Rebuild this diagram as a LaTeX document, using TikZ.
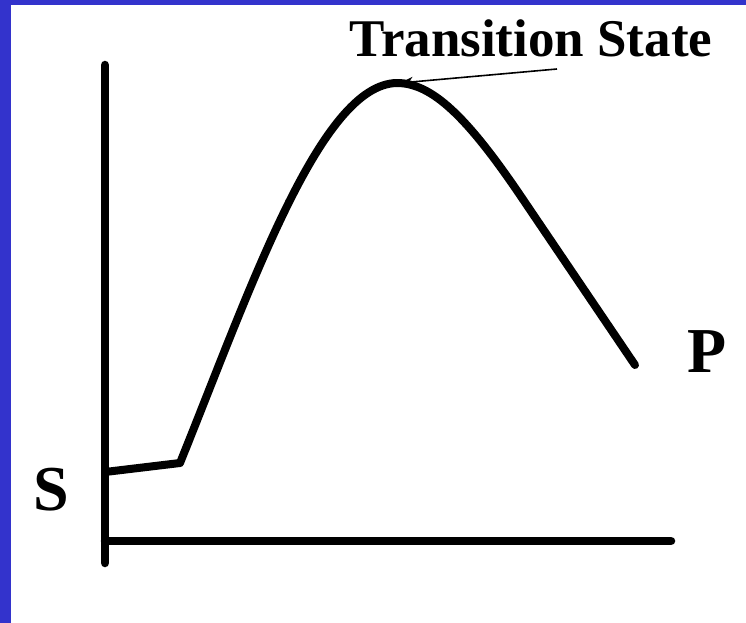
\documentclass[tikz,border=0pt]{standalone}
\usepackage{fontspec}
\setmainfont{Liberation Serif}
\usetikzlibrary{arrows.meta}
\begin{document}
\begin{tikzpicture}[x=1pt,y=-1pt,
  axis/.style={line width=8.5pt,line cap=round},
  curve/.style={line width=8pt,line cap=round,line join=round},
  biglabel/.style={font=\bfseries\fontsize{64}{70}\selectfont,inner sep=0pt,anchor=base},
  tslabel/.style={font=\bfseries\fontsize{53}{60}\selectfont,inner sep=0pt,anchor=base},
  pointer/.style={line width=1.6pt,-{Stealth[length=13pt,width=10pt]}}]
\useasboundingbox (0,0) rectangle (746,623);
\fill[fill={rgb,255:red,51;green,51;blue,204}] (0,0) rectangle (746,623);
\fill[white] (11,5) rectangle (746,623);
% axes
\coordinate (ytop) at (105,65);
\coordinate (ybot) at (105,563);
\coordinate (xl) at (105,541);
\coordinate (xr) at (671,541);
\draw[axis] (ytop) -- (ybot);
\draw[axis] (xl) -- (xr);
% energy curve
\coordinate (c0) at (105,472);
\coordinate (c1) at (180,463);
\coordinate (peak) at (397,83);
\coordinate (c3) at (520,195);
\coordinate (c4) at (635,365);
\draw[curve] (c0) -- (c1)
  .. controls (250,290) and (320,84) .. (peak)
  .. controls (432,83) and (467,117) .. (c3)
  -- (c4);
% labels
\node[tslabel] (ts) at (531,57) {Transition State};
\node[biglabel] (S) at (51,510) {S};
\node[biglabel] (P) at (707,372) {P};
\coordinate (tsfrom) at (557,69);
\coordinate (tip) at (400,83);
\draw[pointer] (tsfrom) -- (tip);
\end{tikzpicture}
\end{document}
